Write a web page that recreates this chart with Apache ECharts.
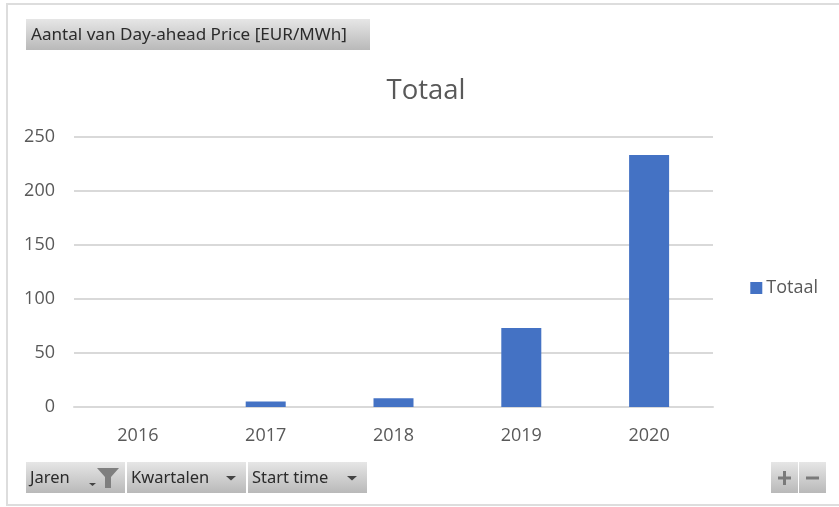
<!DOCTYPE html>
<html>
<head>
<meta charset="utf-8">
<style>html,body{margin:0;padding:0;background:#fff}#c{width:839px;height:507px}</style>
<script src="https://cdn.jsdelivr.net/npm/echarts@6/dist/echarts.min.js"></script>
</head>
<body>
<div id="c"></div>
<script>
const categories = ['2016','2017','2018','2019','2020'];
const totaal = [0, 5, 8, 73, 233];
const yTicks = {min:0, max:250, interval:50};
const titleText = 'Totaal';
const fieldLabel = 'Aantal van Day-ahead Price [EUR/MWh]';

const FONT = '"Open Sans", sans-serif';
const BTN = '"Noto Sans", sans-serif';
const grad = {type:'linear',x:0,y:0,x2:0,y2:1,colorStops:[{offset:0,color:'#e6e6e6'},{offset:1,color:'#b9b9b9'}]};
function btn(x,y,w,h){return {type:'rect',silent:true,shape:{x,y,width:w,height:h},style:{fill:grad}};}
function txt(x,y,t,size){return {type:'text',silent:true,style:{x,y,text:t,font:(size||16.5)+'px '+BTN,fill:'#2b2b2b',textVerticalAlign:'middle',textBaseline:'middle'}};}
function arrow(cx,cy){return {type:'polygon',silent:true,shape:{points:[[cx-5,cy-2],[cx+5,cy-2],[cx,cy+2.5]]},style:{fill:'#444'}};}

const chart = echarts.init(document.getElementById('c'),null,{renderer:'canvas'});
chart.setOption({
  animation:false,
  backgroundColor:'#fff',
  title:{text:titleText,left:421,top:72,textAlign:'center',textStyle:{fontFamily:FONT,fontSize:27.5,fontWeight:'normal',color:'#595959'}},
  legend:{right:16,top:274,itemWidth:12,itemHeight:12,itemGap:5,icon:'rect',
    textStyle:{fontFamily:FONT,fontSize:18,color:'#595959',padding:[0,0,0,-1]},data:[titleText]},
  grid:{left:74,right:126,top:136.5,bottom:100,containLabel:false},
  xAxis:{type:'category',data:categories,
    axisLine:{lineStyle:{color:'#d9d9d9',width:2}},axisTick:{show:false},
    axisLabel:{margin:20,fontFamily:FONT,fontSize:18,color:'#595959'}},
  yAxis:{type:'value',min:yTicks.min,max:yTicks.max,interval:yTicks.interval,
    axisLine:{show:false},axisTick:{show:false},
    splitLine:{lineStyle:{color:'#d9d9d9',width:2}},
    axisLabel:{margin:19,fontFamily:FONT,fontSize:18,color:'#595959'}},
  series:[{name:titleText,type:'bar',data:totaal,barWidth:40,itemStyle:{color:'#4472c4'}}],
  graphic:[
    {type:'rect',silent:true,z:-1,shape:{x:7,y:4,width:840,height:501},style:{fill:'none',stroke:'#dddddd',lineWidth:2}},
    btn(26,19,344,31), txt(31,35,fieldLabel,17.1),
    btn(26,462,99,31), txt(30,478,'Jaren'),
    {type:'polygon',silent:true,shape:{points:[[97,468],[119,468],[111,477],[111,488],[105,488],[105,477]]},style:{fill:'#7f7f7f'}},
    {type:'polygon',silent:true,shape:{points:[[89,483],[96,483],[92.5,486]]},style:{fill:'#444'}},
    btn(127,462,119,31), txt(131,478,'Kwartalen'), arrow(231,478),
    btn(248,462,119,31), txt(252,478,'Start time'), arrow(352,478),
    btn(771,462,27,31), btn(799,462,27,31),
    {type:'rect',silent:true,shape:{x:778,y:476.5,width:13,height:3},style:{fill:'#7a7a7a'}},
    {type:'rect',silent:true,shape:{x:783,y:471,width:3,height:14},style:{fill:'#7a7a7a'}},
    {type:'rect',silent:true,shape:{x:806,y:476.5,width:13,height:3},style:{fill:'#7a7a7a'}}
  ]
});
</script>
</body>
</html>
